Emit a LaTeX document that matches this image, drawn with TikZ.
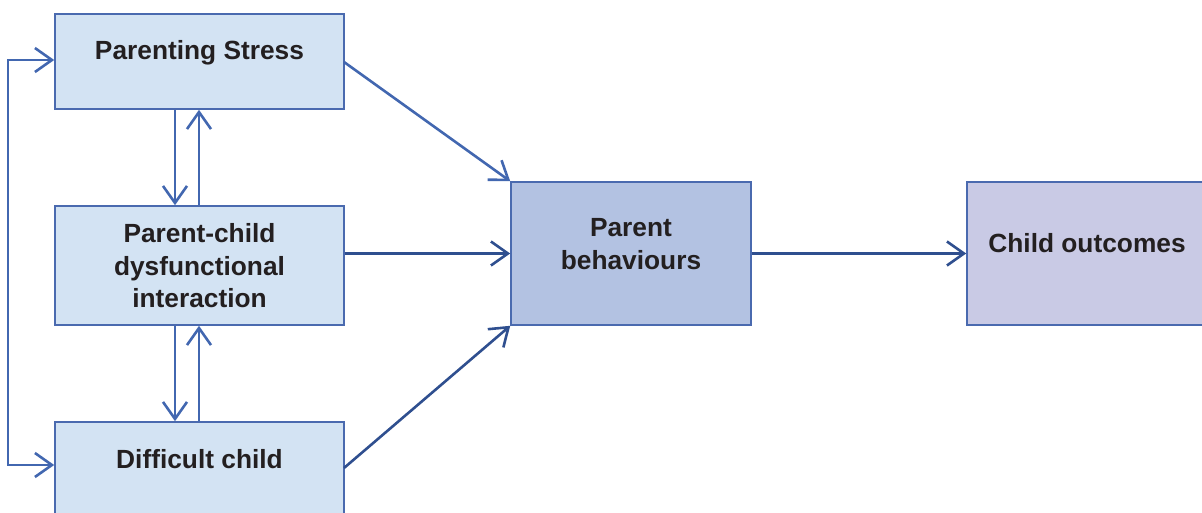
\documentclass[tikz,border=0pt]{standalone}
\usepackage{fontspec}
\setmainfont{Liberation Sans}
\usetikzlibrary{arrows.meta,calc}
\definecolor{boxA}{RGB}{211,227,243}
\definecolor{boxB}{RGB}{179,194,226}
\definecolor{boxC}{RGB}{201,202,229}
\definecolor{edge}{RGB}{74,106,175}
\definecolor{arr}{RGB}{66,103,176}
\definecolor{arrd}{RGB}{47,79,143}
\definecolor{txt}{RGB}{35,31,32}
\tikzset{
  box/.style={draw=edge, line width=1.6pt, inner sep=0pt, anchor=center},
  lbl/.style={font=\bfseries\fontsize{26.3}{32.5}\selectfont, text=txt, align=center, inner sep=0pt},
  conn/.style={draw=arr, line width=2.6pt, -{Straight Barb[length=17pt,width=24pt]}},
  connd/.style={conn, draw=arrd}
}
\begin{document}
\begin{tikzpicture}[x=1pt,y=-1pt]
\useasboundingbox (0,0) rectangle (1202,513);
\node[box, fill=boxA, minimum width=289pt, minimum height=95pt] (ps) at (199.5,61.5) {};
\node[box, fill=boxA, minimum width=289pt, minimum height=119pt] (pci) at (199.5,265.5) {};
\node[box, fill=boxA, minimum width=289pt, minimum height=95pt] (dc) at (199.5,469.5) {};
\node[box, fill=boxB, minimum width=240pt, minimum height=143pt] (pb) at (631,253.5) {};
\node[box, fill=boxC, minimum width=240pt, minimum height=143pt] (co) at (1087,253.5) {};
\node[lbl, anchor=base] (pst) at (199.5,60) {Parenting Stress};
\node[lbl] (pcit) at (199.5,266) {Parent-child\\dysfunctional\\interaction};
\node[lbl, anchor=base] (dct) at (199.5,468) {Difficult child};
\node[lbl] (pbt) at (631,244) {Parent\\behaviours};
\node[lbl, anchor=base] (cot) at (1087,252) {Child outcomes};
% left loop
\coordinate (lt) at (8,60);
\coordinate (lb) at (8,465);
\draw[conn, {Straight Barb[length=17pt,width=24pt]}-{Straight Barb[length=17pt,width=24pt]}] (ps.west |- lt) -- (lt) -- (lb) -- (dc.west |- lb);
% vertical pairs
\coordinate (xd) at (175,0);
\coordinate (xu) at (199,0);
\draw[conn] (ps.south -| xd) -- (pci.north -| xd);
\draw[conn] (pci.north -| xu) -- (ps.south -| xu);
\draw[conn] (pci.south -| xd) -- (dc.north -| xd);
\draw[conn] (dc.north -| xu) -- (pci.south -| xu);
% to parent behaviours
\coordinate (psr) at (344,62);
\coordinate (dcr) at (344,468);
\draw[conn] (psr) -- (pb.north west);
\draw[connd] (pci.east |- pb.center) -- (pb.west);
\draw[connd] (dcr) -- (pb.south west);
\draw[connd] (pb.east) -- (co.west);
\end{tikzpicture}
\end{document}
